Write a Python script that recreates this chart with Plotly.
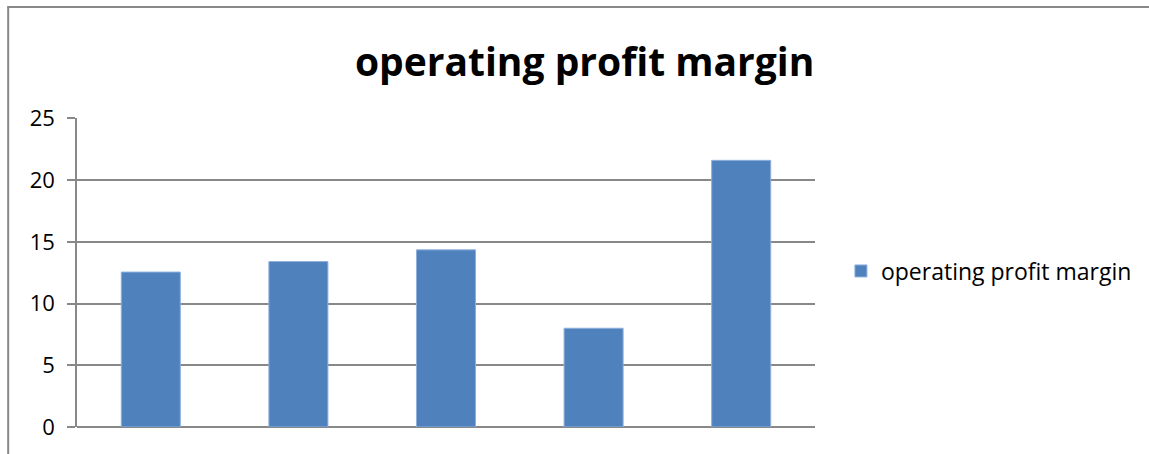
import plotly.graph_objects as go

categories = ["1", "2", "3", "4", "5"]
values = [12.55, 13.4, 14.35, 8.0, 21.6]
series_name = "operating profit margin"
title_text = "operating profit margin"
y_ticks = [0, 5, 10, 15, 20, 25]

W, H = 1149, 454
L, R, T, B = 77, 817, 118, 427

def px_x(p):
    return (p - L) / (R - L)

def px_y(p):
    return (B - p) / (B - T)

GRAY = "#888888"

fig = go.Figure()
fig.add_trace(go.Bar(
    x=categories, y=values, name=series_name,
    marker=dict(color="#4F81BD", line=dict(color="#8DB0DC", width=1)),
    showlegend=True,
))

fig.update_layout(
    width=W, height=H,
    margin=dict(l=L, r=W - R, t=T, b=H - B, pad=0),
    paper_bgcolor="white", plot_bgcolor="white",
    bargap=0.6,
    font=dict(family="Open Sans", size=22, color="black"),
    title=dict(text="<b>" + title_text + "</b>", x=px_x(586), xref="paper", xanchor="center",
               y=1 - 62 / H, yanchor="middle",
               font=dict(size=39, family="Open Sans", color="black")),
    xaxis=dict(showticklabels=False, showgrid=False, ticks="", zeroline=False,
               showline=False),
    yaxis=dict(range=[0, 25.03], tickvals=y_ticks, showgrid=True, gridcolor=GRAY, gridwidth=1.5,
               ticks="outside", ticklen=8, tickcolor=GRAY, tickwidth=1.5,
               showline=True, linecolor=GRAY, linewidth=1.5,
               zeroline=True, zerolinecolor=GRAY, zerolinewidth=1.5,
               ticklabelstandoff=8),
    legend=dict(x=px_x(843), y=px_y(271), xanchor="left", yanchor="middle",
                font=dict(size=23), bgcolor="rgba(0,0,0,0)", itemwidth=30),
    shapes=[
        dict(type="line", xref="paper", yref="paper", x0=px_x(8), x1=px_x(8),
             y0=px_y(H + 20), y1=px_y(7), line=dict(color=GRAY, width=2)),
        dict(type="line", xref="paper", yref="paper", x0=px_x(7), x1=px_x(1160),
             y0=px_y(7), y1=px_y(7), line=dict(color=GRAY, width=2)),
    ],
)

fig.write_html("out.html",
               config={"displayModeBar": False},
               post_script="document.body.style.margin='0';document.body.style.overflow='hidden';")
